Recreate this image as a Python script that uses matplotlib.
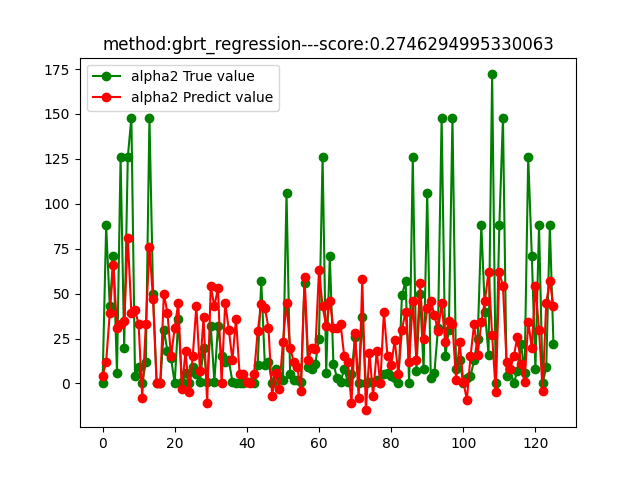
import matplotlib
matplotlib.use("Agg")
import matplotlib.pyplot as plt
import numpy as np

method = "gbrt_regression"
score = 0.2746294995330063

true_values = [
    0, 88, 43, 71, 6, 126, 20, 126, 148, 4,
    9, 0, 12, 148, 50, 0, 0, 30, 18, 14,
    0, 36, 1, 6, 0, 9, 5, 1, 20, 1,
    32, 1, 32, 15, 12, 13, 1, 0, 0, 0,
    1, 1, 0, 10, 57, 10, 12, 0, 8, 4,
    2, 106, 5, 2, 2, 1, 56, 9, 8, 11,
    25, 126, 6, 71, 11, 3, 1, 8, 1, 5,
    26, 0, 37, 0, 1, 1, 2, 0, 5, 6,
    4, 3, 0, 49, 57, 0, 126, 7, 50, 8,
    106, 3, 6, 31, 148, 15, 30, 148, 8, 13,
    0, 3, 4, 13, 25, 88, 40, 16, 172, 0,
    88, 148, 4, 8, 0, 7, 22, 6, 126, 71,
    8, 88, 0, 9, 88, 22,
]

# alpha2 model predictions
predict_values = [
    4, 12, 39, 66, 31, 33, 35, 81, 39, 41,
    33, -8, 33, 76, 47, 0, 0, 50, 39, 15,
    31, 45, -3, 18, -5, 15, 43, 7, 37, -11,
    54, 43, 53, 0, 45, 30, 13, 36, 5, 5,
    1, 0, 5, 29, 44, 42, 31, -7, 6, -3,
    23, 45, 20, 12, 9, -4, 59, 13, 20, 19,
    63, 43, 32, 46, 31, 31, 33, 15, 12, -11,
    28, -8, 58, -15, 17, -7, 18, 0, 40, 15,
    10, 24, 5, 30, 40, 12, 46, 13, 56, 25,
    42, 46, 38, 29, 45, 23, 35, 33, 2, 23,
    1, -9, 15, 33, 16, 34, 46, 62, 27, -5,
    62, 54, 12, 8, 15, 26, 11, 1, 34, 20,
    54, 30, -4, 45, 57, 43,
]

x = np.arange(len(true_values))

fig, ax = plt.subplots(figsize=(6.4, 4.8), dpi=100)
ax.plot(x, true_values, "go-", label="alpha2 True value")
ax.plot(x, predict_values, "ro-", label="alpha2 Predict value")
ax.set_title(f"method:{method}---score:{score}")
ax.legend(loc="upper left")
fig.savefig("out.png")
